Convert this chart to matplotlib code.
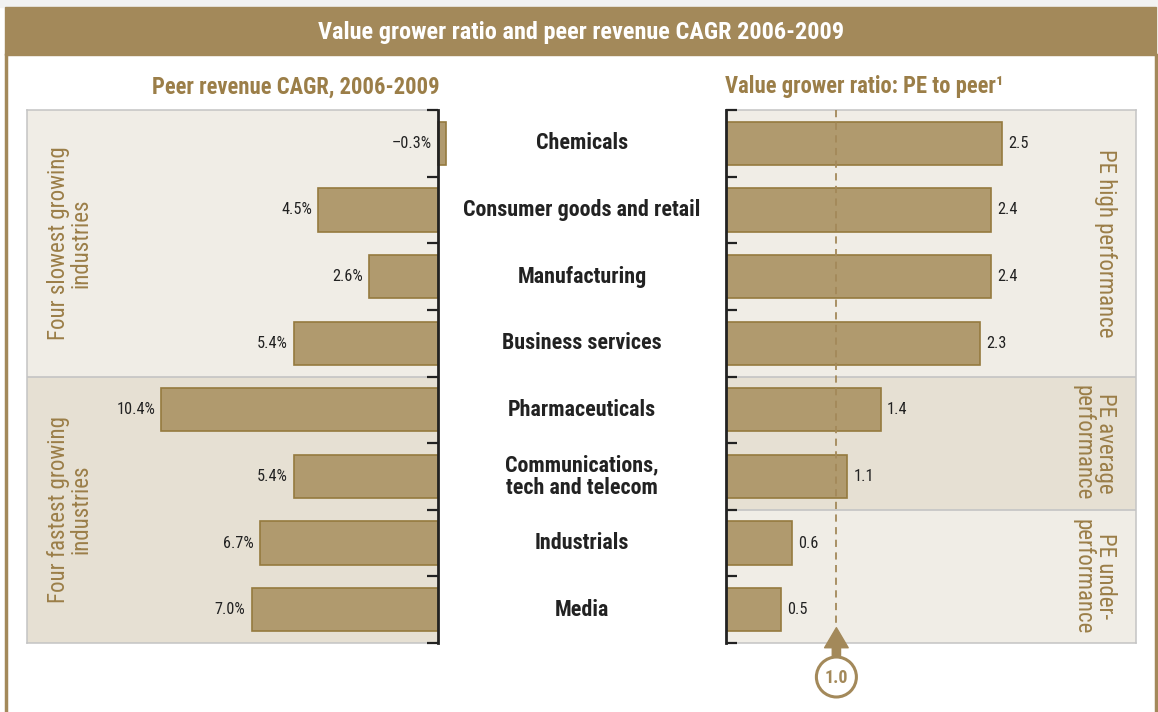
import matplotlib.pyplot as plt
from matplotlib.patches import Rectangle, Circle

# industries, top to bottom
industries = ["Chemicals", "Consumer goods and retail", "Manufacturing",
              "Business services", "Pharmaceuticals",
              "Communications,\ntech and telecom", "Industrials", "Media"]
cagr = [-0.3, 4.5, 2.6, 5.4, 10.4, 5.4, 6.7, 7.0]        # peer revenue CAGR, %
pe_ratio = [2.5, 2.4, 2.4, 2.3, 1.4, 1.1, 0.6, 0.5]      # PE to peer
ref_ratio = 1.0

left_groups = ["Four slowest growing\nindustries", "Four fastest growing\nindustries"]
right_groups = ["PE high performance", "PE average\nperformance", "PE under-\nperformance"]

W, H = 1158, 712
TAN = "#a3895a"
TAN_TEXT = "#9b7e48"
BAR = "#b09a6e"
BAR_EDGE = "#957a3e"
LIGHT = "#f0ede6"
DARK = "#e6e0d3"
GRID = "#c4c4c4"
INK = "#222222"

plt.rcParams["font.family"] = ["Roboto Condensed", "DejaVu Sans"]


def px_axes(fig, x, y, w, h, **kw):
    return fig.add_axes([x / W, 1 - (y + h) / H, w / W, h / H], **kw)


def style_box(ax, dark_side):
    for s in ["left", "right", "top", "bottom"]:
        sp = ax.spines[s]
        if s == dark_side:
            sp.set_color(INK)
            sp.set_linewidth(2)
        else:
            sp.set_color(GRID)
            sp.set_linewidth(1.1)
            sp.set_zorder(0.5)
    ax.set_yticks(band_edges)
    ax.set_yticklabels([])
    ax.tick_params(axis="y", direction="in", length=8, width=1.6, color=INK)
    ax.set_xticks([])


fig = plt.figure(figsize=(W / 100, H / 100), dpi=100)
fig.patch.set_facecolor("white")

n = len(industries)
ypos = list(range(n))
band_edges = [i - 0.5 for i in range(n + 1)]

# ---- left panel: peer revenue CAGR (bars grow to the left)
axl = px_axes(fig, 27, 110, 411, 533)
axl.set_xlim(15.45, 0)
axl.set_ylim(n - 0.5, -0.5)
axl.axhspan(-0.5, 3.5, color=LIGHT, zorder=0)
axl.axhspan(3.5, 7.5, color=DARK, zorder=0)
axl.axhline(3.5, color=GRID, lw=1.2, zorder=1)
axl.barh(ypos, cagr, height=0.65, color=BAR, edgecolor=BAR_EDGE, lw=1.2,
         zorder=2, clip_on=False)
for y, v in zip(ypos, cagr):
    lab = ("\u2013%.1f%%" % abs(v)) if v < 0 else ("%.1f%%" % v)
    axl.annotate(lab, (max(v, 0), y), xytext=(-4.5, 0), textcoords="offset points",
                 ha="right", va="center", fontsize=11.7, color=INK)
axl.yaxis.tick_right()
style_box(axl, "right")
for (y0, y1), txt in zip([(-0.5, 3.5), (3.5, 7.5)], left_groups):
    axl.text(14.68, (y0 + y1) / 2, txt, rotation=90, ha="left", va="center",
             multialignment="center", fontsize=16.5, fontweight="normal",
             color=TAN_TEXT, linespacing=0.95)

# ---- right panel: value grower ratio
axr = px_axes(fig, 726, 110, 410, 533)
axr.set_xlim(0, 3.714)
axr.set_ylim(n - 0.5, -0.5)
axr.axhspan(-0.5, 3.5, color=LIGHT, zorder=0)
axr.axhspan(3.5, 5.5, color=DARK, zorder=0)
axr.axhspan(5.5, 7.5, color=LIGHT, zorder=0)
axr.axhline(3.5, color=GRID, lw=1.2, zorder=1)
axr.axhline(5.5, color=GRID, lw=1.2, zorder=1)
axr.barh(ypos, pe_ratio, height=0.65, color=BAR, edgecolor=BAR_EDGE, lw=1.2, zorder=2)
for y, v in zip(ypos, pe_ratio):
    axr.annotate("%.1f" % v, (v, y), xytext=(4.5, 0), textcoords="offset points",
                 ha="left", va="center", fontsize=11.7, color=INK)
tip = n - 0.5 - 0.23
axr.plot([ref_ratio, ref_ratio], [-0.5, tip], ls=(0, (4, 3)), color=TAN, lw=1.3, zorder=3)
style_box(axr, "left")
for (y0, y1), txt in zip([(-0.5, 3.5), (3.5, 5.5), (5.5, 7.5)], right_groups):
    axr.text(3.54, (y0 + y1) / 2, txt, rotation=270, ha="right", va="center",
             multialignment="center", fontsize=16.5, fontweight="normal",
             color=TAN_TEXT, linespacing=0.95)

# arrow pointing up at the 1.0 reference line
axr.annotate("", xy=(ref_ratio, tip), xytext=(ref_ratio, n - 0.5 + 0.22),
             arrowprops=dict(arrowstyle="simple,head_length=0.85,head_width=1.0,tail_width=0.35",
                             color=TAN, mutation_scale=17, shrinkA=0, shrinkB=0),
             annotation_clip=False)

# ---- overlay in pixel coordinates: frame, title bar, category names
ov = fig.add_axes([0, 0, 1, 1], zorder=10)
ov.set_xlim(0, W)
ov.set_ylim(H, 0)
ov.axis("off")
ov.add_patch(Rectangle((0, 0), W, 7, color="#f2f2f2"))
ov.add_patch(Rectangle((5, 7), 1151, 48, color=TAN))
ov.plot([6, 6], [55, H], color=TAN, lw=2.5)
ov.plot([1156, 1156], [55, H], color=TAN, lw=2.5)
ov.text(581, 32, "Value grower ratio and peer revenue CAGR 2006-2009", ha="center",
        va="center", fontsize=17.5, fontweight="bold", color="white")
ov.text(296, 87, "Peer revenue CAGR, 2006-2009", ha="center", va="center",
        fontsize=16.3, fontweight="bold", color=TAN_TEXT)
ov.text(725, 87, "Value grower ratio: PE to peer\u00b9", ha="left", va="center",
        fontsize=16.3, fontweight="bold", color=TAN_TEXT)

x_ref = 726 + 410 * ref_ratio / 3.714
ov.add_patch(Circle((x_ref, 677), 20, facecolor="white", edgecolor=TAN, lw=2.2))
ov.text(x_ref, 678, "%.1f" % ref_ratio, ha="center", va="center", fontsize=13,
        fontweight="bold", color=TAN)

band = 533 / n
for i, name in enumerate(industries):
    ov.text(582, 110 + band * (i + 0.5), name, ha="center", va="center",
            fontsize=15.8, fontweight="bold", color=INK, linespacing=1.05)

fig.savefig("out.png", dpi=100)
